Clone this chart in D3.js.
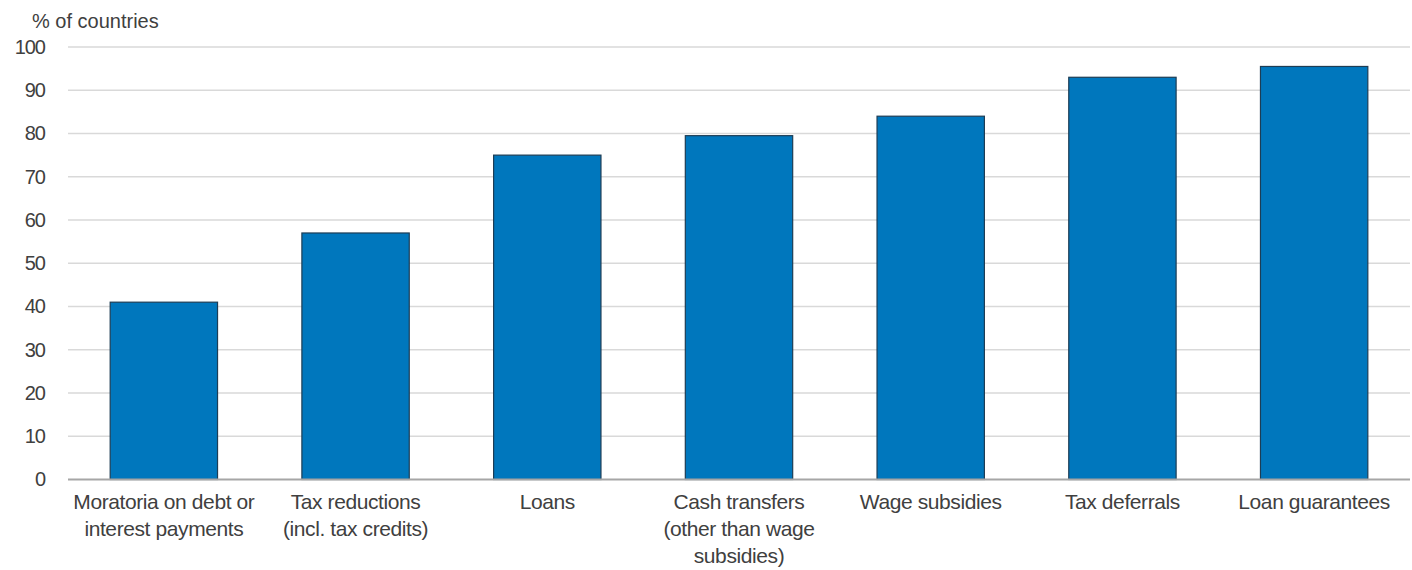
<!DOCTYPE html>
<html>
<head>
<meta charset="utf-8">
<script src="https://cdn.jsdelivr.net/npm/d3@7"></script>
<style>
  body { margin: 0; background: #fff; }
  svg text { font-family: "Liberation Sans", Arial, sans-serif; fill: #404040; }
</style>
</head>
<body>
<svg id="canvas"></svg>
<script>
const width = 1412;
const height = 570;

// data
const categories = [
  ['Moratoria on debt or', 'interest payments'],
  ['Tax reductions', '(incl. tax credits)'],
  ['Loans'],
  ['Cash transfers', '(other than wage', 'subsidies)'],
  ['Wage subsidies'],
  ['Tax deferrals'],
  ['Loan guarantees']
];
const values = [41, 57, 75, 79.5, 84, 93, 95.5];
const yTicks = [0, 10, 20, 30, 40, 50, 60, 70, 80, 90, 100];

const svg = d3.select('#canvas').attr('width', width).attr('height', height);

const x = d3.scaleBand()
  .domain(d3.range(values.length))
  .range([68, 1410])
  .paddingInner(0.44)
  .paddingOuter(0.22);

const y = d3.scaleLinear().domain([0, 100]).range([479.5, 47]);

// gridlines
svg.append('g')
  .selectAll('line')
  .data(yTicks.filter((t) => t > 0))
  .enter()
  .append('line')
  .attr('x1', 68)
  .attr('x2', 1410)
  .attr('y1', (d) => y(d))
  .attr('y2', (d) => y(d))
  .attr('stroke', '#d9d9d9')
  .attr('stroke-width', 1.5);

// y axis labels
const yAxis = d3.axisLeft(y).tickValues(yTicks).tickSize(0).tickPadding(0);
svg.append('g')
  .attr('transform', 'translate(45,0)')
  .call(yAxis)
  .call((g) => g.select('.domain').remove())
  .selectAll('text')
  .attr('font-size', 20)
  .attr('font-family', '"Liberation Sans", Arial, sans-serif')
  .attr('fill', '#404040')
  .attr('letter-spacing', '-1');

svg.append('text')
  .attr('x', 32)
  .attr('y', 28)
  .attr('font-size', 20)
  .attr('letter-spacing', '0')
  .text('% of countries');

// bars
svg.append('g')
  .selectAll('rect')
  .data(values)
  .enter()
  .append('rect')
  .attr('x', (d, i) => x(i))
  .attr('y', (d) => y(d))
  .attr('width', x.bandwidth())
  .attr('height', (d) => y(0) - y(d))
  .attr('fill', '#0077bd')
  .attr('stroke', '#1d3d55')
  .attr('stroke-width', 1.2);

// baseline
svg.append('line')
  .attr('x1', 68)
  .attr('x2', 1410)
  .attr('y1', y(0))
  .attr('y2', y(0))
  .attr('stroke', '#a6a6a6')
  .attr('stroke-width', 2);

// category labels
const labels = svg.append('g')
  .selectAll('text')
  .data(categories)
  .enter()
  .append('text')
  .attr('text-anchor', 'middle')
  .attr('font-size', 21)
  .attr('letter-spacing', '-0.4')
  .attr('x', (d, i) => x(i) + x.bandwidth() / 2)
  .attr('y', 509);

labels.selectAll('tspan')
  .data((d) => d)
  .enter()
  .append('tspan')
  .attr('x', function () { return d3.select(this.parentNode).attr('x'); })
  .attr('dy', (d, i) => (i === 0 ? 0 : 27))
  .text((d) => d);
</script>
</body>
</html>
